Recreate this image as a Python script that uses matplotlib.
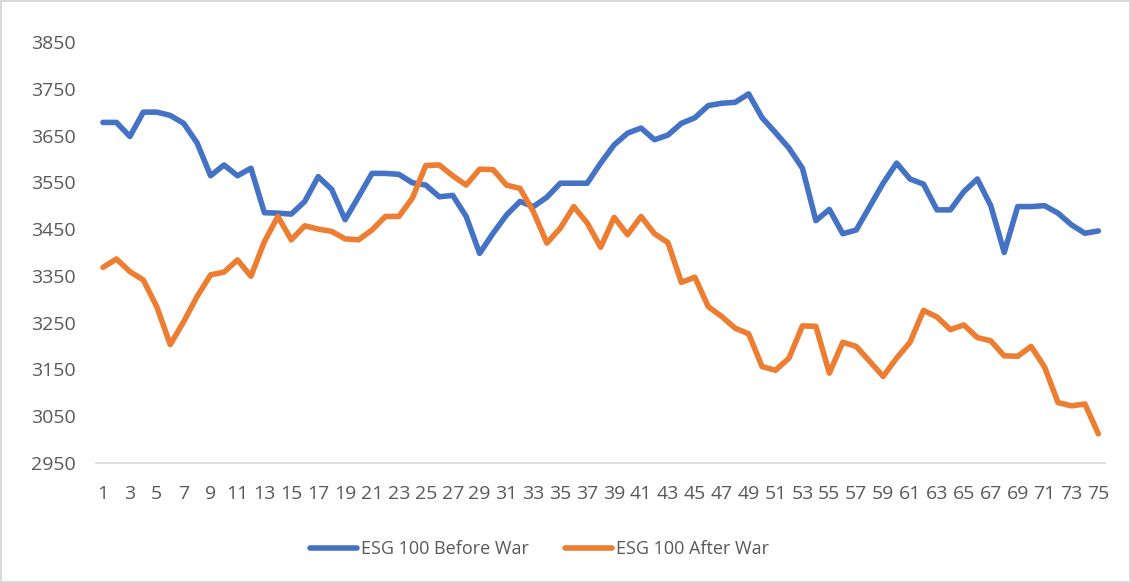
import numpy as np
import matplotlib.pyplot as plt

# ---------------------------------------------------------------
# Data (index level, days 1..75)
# ---------------------------------------------------------------
DAYS = list(range(1, 76))

BEFORE_WAR = [
    3678, 3678, 3648, 3700, 3700, 3693, 3676, 3634, 3564, 3587,
    3564, 3580, 3485, 3484, 3482, 3509, 3562, 3535, 3470, 3519,
    3569, 3569, 3567, 3549, 3544, 3519, 3522, 3477, 3398, 3441,
    3480, 3509, 3498, 3518, 3548, 3548, 3548, 3591, 3630, 3655,
    3666, 3641, 3651, 3676, 3688, 3714, 3719, 3721, 3739, 3688,
    3656, 3623, 3580, 3468, 3492, 3440, 3448, 3498, 3548, 3591,
    3557, 3546, 3491, 3491, 3530, 3557, 3500, 3400, 3498, 3498,
    3500, 3484, 3459, 3441, 3446,
]

AFTER_WAR = [
    3368, 3386, 3359, 3341, 3284, 3203, 3252, 3306, 3352, 3358,
    3384, 3349, 3423, 3477, 3427, 3457, 3450, 3445, 3429, 3427,
    3448, 3477, 3477, 3516, 3586, 3587, 3564, 3544, 3578, 3577,
    3544, 3537, 3487, 3420, 3452, 3498, 3463, 3411, 3475, 3438,
    3477, 3440, 3421, 3336, 3347, 3284, 3263, 3238, 3226, 3156,
    3148, 3174, 3243, 3242, 3142, 3208, 3199, 3167, 3135, 3174,
    3208, 3276, 3262, 3235, 3245, 3218, 3211, 3179, 3178, 3199,
    3155, 3079, 3072, 3076, 3012,
]

Y_TICKS = list(range(2950, 3851, 100))
X_TICKS = list(range(1, 76, 2))

BLUE = "#4472C4"
ORANGE = "#ED7D31"
TEXT = "#595959"

plt.rcParams["font.family"] = ["Open Sans", "DejaVu Sans"]

fig = plt.figure(figsize=(11.31, 5.83), dpi=100)
fig.patch.set_edgecolor("#D9D9D9")
fig.patch.set_linewidth(1.5)
ax = fig.add_axes([0.0851, 0.206, 0.892, 0.722])

ax.plot(DAYS, BEFORE_WAR, color=BLUE, linewidth=4, solid_joinstyle="round",
        solid_capstyle="round", label="ESG 100 Before War")
ax.plot(DAYS, AFTER_WAR, color=ORANGE, linewidth=4, solid_joinstyle="round",
        solid_capstyle="round", label="ESG 100 After War")

ax.set_xlim(0.5, 75.5)
ax.set_ylim(2950, 3850)
ax.set_xticks(X_TICKS)
ax.set_xticklabels([str(x) for x in X_TICKS])
ax.set_yticks(Y_TICKS)

for side in ("top", "right", "left"):
    ax.spines[side].set_visible(False)
ax.spines["bottom"].set_color("#D9D9D9")
ax.spines["bottom"].set_linewidth(1.2)

ax.tick_params(axis="x", length=0, pad=16, labelsize=14, labelcolor=TEXT)
ax.tick_params(axis="y", length=0, pad=15, labelsize=14, labelcolor=TEXT)

fig.legend(loc="center", bbox_to_anchor=(0.477, 0.058), ncol=2, frameon=False,
           fontsize=13, labelcolor=TEXT, handlelength=2.6, handletextpad=0.2,
           columnspacing=2.0)

plt.savefig("out.png", dpi=100)
